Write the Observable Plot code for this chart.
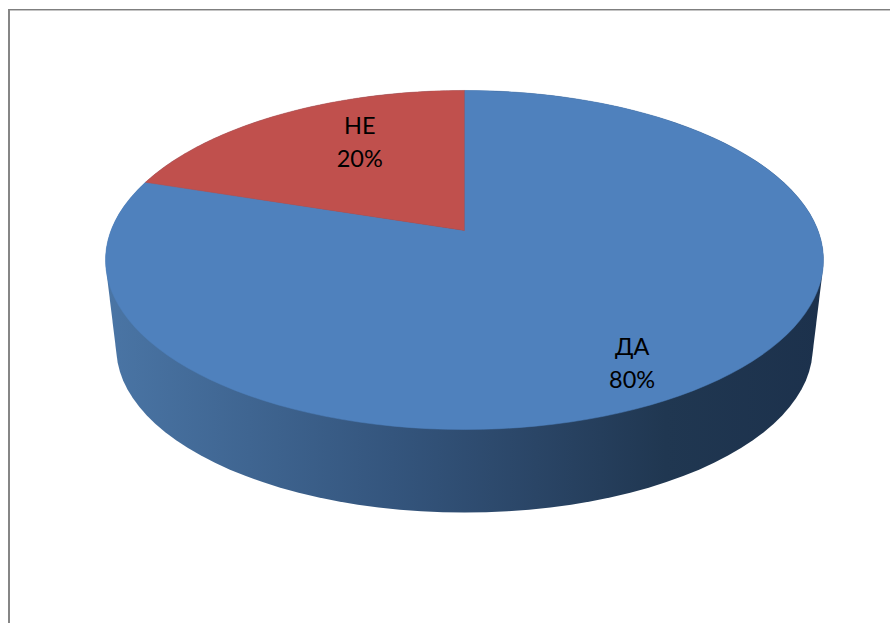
<!DOCTYPE html>
<html>
<head>
<meta charset="utf-8">
<script src="https://cdn.jsdelivr.net/npm/d3@7"></script>
<script src="https://cdn.jsdelivr.net/npm/@observablehq/plot@0.6"></script>
<style>
  html, body { margin: 0; padding: 0; background: #fff; overflow: hidden; }
  #wrap { position: relative; width: 890px; height: 623px; }
  #frame { position: absolute; left: 8px; top: 9px; right: 0; bottom: 0;
           border-left: 2px solid #868686; border-top: 1px solid #7f7f7f;
           box-shadow: inset 0 1px 0 #c4c4c4; }
  #wrap svg { position: absolute; left: 0; top: 0; }
</style>
</head>
<body>
<div id="wrap"><div id="frame"></div></div>
<script>
const categories = ["ДА", "НЕ"];
const values = [80, 20];
const percentLabels = ["80%", "20%"];
const sliceColors = ["#4f81bd", "#c0504d"];
const labelDx = [19, 19];
const labelDy = [35, -11];

// Tilted disc seen in perspective: back of the disc is compressed.
const perspective = 0.174;
const lowerScale = 0.97;
const lowerDrop = 89 / 164.4;
const project = (theta, r = 1) => {
  const u = r * Math.sin(theta), v = r * Math.cos(theta), w = 1 + perspective * v;
  return {px: u / w, py: v / w};
};
const sampleArc = (a0, a1) =>
  d3.range(0, 121).map(i => project(a0 + (a1 - a0) * i / 120));

const arcs = d3.pie().sort(null).startAngle(0).endAngle(2 * Math.PI)(values);
const wedges = arcs.map(a => [project(0, 0), ...sampleArc(a.startAngle, a.endAngle)]);

const fullCircle = sampleArc(0, 2 * Math.PI);
const lowerCircle = fullCircle.map(p => ({px: p.px * lowerScale, py: p.py * lowerScale - lowerDrop}));
const wall = d3.polygonHull([...fullCircle, ...lowerCircle].map(p => [p.px, p.py]))
  .map(([px, py]) => ({px, py}));

const labels = arcs.map((a, i) => ({
  ...project((a.startAngle + a.endAngle) / 2, 0.65),
  text: categories[i] + "\n" + percentLabels[i],
  dx: labelDx[i],
  dy: labelDy[i]
}));

const wallStops = [
  [0, "#4a75a5"], [0.2, "#3f6591"], [0.4, "#34557d"],
  [0.6, "#2a4566"], [0.78, "#203751"], [1, "#1c314c"]
];
const gradientDefs = () => {
  const defs = d3.create("svg:defs");
  const g = defs.append("linearGradient").attr("id", "wallGradient")
    .attr("x1", 0).attr("x2", 1).attr("y1", 0).attr("y2", 0);
  wallStops.forEach(([o, c]) => g.append("stop").attr("offset", o).attr("stop-color", c));
  return defs.node();
};

const chart = Plot.plot({
  width: 890,
  height: 623,
  margin: 0,
  axis: null,
  style: {background: "transparent"},
  x: {domain: [-1, 1], range: [464 - 353.5, 464 + 353.5]},
  y: {domain: [1, -1], range: [230 - 164.4, 230 + 164.4]},
  marks: [
    gradientDefs,
    Plot.line(wall, {x: "px", y: "py", fill: "url(#wallGradient)", stroke: "none"}),
    ...wedges.map((w, i) => Plot.line(w, {x: "px", y: "py", fill: sliceColors[i], stroke: sliceColors[i], strokeWidth: 0.5})),
    ...labels.map(l => Plot.text([l], {
      x: "px", y: "py", text: "text", dx: l.dx, dy: l.dy,
      fontSize: 23.5, fontFamily: "Lato", fill: "#000", lineHeight: 1.4
    }))
  ]
});
document.getElementById("wrap").appendChild(chart);
</script>
</body>
</html>
